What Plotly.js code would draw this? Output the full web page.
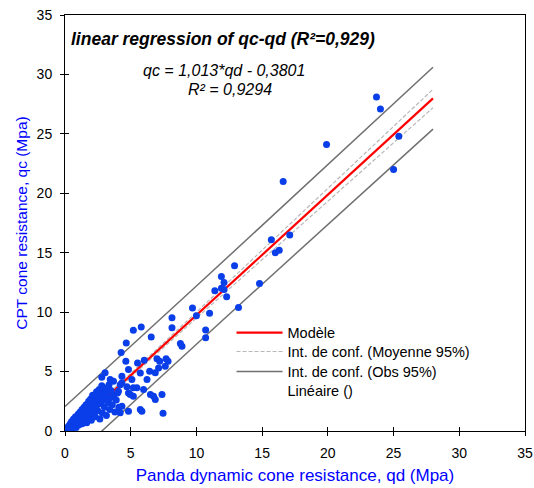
<!DOCTYPE html>
<html><head><meta charset="utf-8">
<script src="https://cdn.plot.ly/plotly-3.0.1.min.js"></script>
<style>body{margin:0;background:#fff;} #chart{width:534px;height:488px;}</style>
</head><body><div id="chart"></div>
<script>
// Observed points (Panda qd, CPT qc), MPa
const qd = [
  0, 0.02, 0.05, 0.1, 0.15, 0.2, 0.25, 0.3, 0.35, 0.4, 0.45, 0.5, 0.5, 0.55, 0.6, 0.65, 0.7, 0.75, 0.8, 0.8,
  0.85, 0.9, 0.95, 1.0, 1.0, 1.05, 1.1, 1.15, 1.2, 1.25, 1.3, 1.3, 1.35, 1.4, 1.45, 1.5, 1.5, 1.55, 1.6, 1.65,
  1.7, 1.75, 1.8, 1.8, 1.85, 1.9, 1.95, 2.0, 2.0, 2.05, 2.1, 2.15, 2.2, 2.25, 2.3, 2.35, 2.4, 2.45, 2.5, 2.55,
  2.6, 2.65, 2.7, 2.75, 2.8, 2.85, 2.9, 2.95, 3.0, 3.05, 3.1, 3.15, 3.2, 3.3, 3.35, 3.4, 3.45, 3.5, 3.6, 3.7,
  3.8, 3.9, 4.0, 4.1,
  2.8, 3.05, 3.44, 3.69, 4.33, 4.33, 4.2, 4.07, 4.71, 4.96, 5.47, 5.09, 4.83, 5.2, 5.2, 5.98, 6.24, 6.5,
  4.83, 5.73, 6.44, 6.87, 4.63, 5.52, 6.03, 7.0, 7.2, 7.69, 7.84, 7.12, 7.63, 4.27, 4.66, 6.56, 5.2, 5.8,
  8.14, 8.14, 8.78, 8.9, 9.7, 10.0, 11.0, 10.7, 10.7,
  4.33, 5.73, 5.85, 4.83, 4.2, 6.74, 6.87, 7.38, 7.46,
  11.4, 11.9, 12.1, 11.9, 12.1, 12.3, 12.9, 14.8, 13.2, 15.7, 16.0, 16.3, 17.1, 16.6, 19.9, 23.7, 24.0, 25.4, 25.0
];
const qc = [
  0, 0.1, 0.05, 0.2, 0.1, 0.3, 0.15, 0.45, 0.25, 0.6, 0.3, 0.8, 0.45, 0.2, 0.65, 1.0, 0.4, 0.85, 1.2, 0.55,
  0.3, 1.0, 0.7, 1.4, 0.9, 0.5, 1.2, 1.6, 0.8, 1.05, 1.8, 0.6, 1.4, 1.1, 2.0, 1.6, 0.9, 1.3, 2.2, 0.7,
  1.8, 1.5, 2.5, 1.1, 2.0, 1.4, 2.7, 1.8, 0.9, 2.3, 3.0, 1.5, 2.6, 2.0, 1.2, 2.9, 3.3, 2.2, 1.7, 2.6,
  3.5, 1.0, 2.9, 2.3, 3.8, 1.5, 3.2, 2.6, 2.0, 3.6, 2.9, 1.3, 3.3, 2.4, 3.9, 1.8, 2.8, 3.4, 2.2, 3.0,
  1.6, 2.6, 3.2, 2.0,
  4.53, 4.9, 4.33, 4.19, 4.05, 4.6, 3.9, 3.35, 3.72, 3.07, 3.63, 4.33, 3.2, 3.63, 2.93, 3.49, 4.33, 3.07,
  5.17, 4.89, 5.03, 4.9, 5.87, 5.73, 5.96, 6.07, 5.87, 6.07, 5.87, 5.31, 5.45, 6.6, 7.4, 7.9, 8.48, 8.76,
  9.52, 8.68, 7.36, 7.13, 10.35, 9.7, 9.9, 8.5, 7.85,
  2.09, 1.81, 1.67, 1.67, 1.53, 2.93, 2.65, 3.07, 1.5,
  11.8, 12.0, 11.9, 13.0, 12.5, 11.3, 13.9, 12.4, 10.4, 16.1, 15.0, 15.2, 16.5, 21.0, 24.1, 28.1, 27.1, 24.8, 22.0
];
// Regression outputs
const fitQd      = [0, 5, 10, 15, 20, 25, 28];
const fitModel   = [-0.38, 4.685, 9.75, 14.815, 19.88, 24.945, 27.984];
const meanUpper  = [-0.12, 4.84, 10.0, 15.2, 20.42, 25.62, 28.75];
const meanLower  = [-0.64, 4.53, 9.5, 14.43, 19.34, 24.27, 27.2];
const obsUpper   = [2.06, 7.1, 12.2, 17.3, 22.4, 27.5, 30.6];
const obsLower   = [-2.85, 2.25, 7.3, 12.35, 17.4, 22.45, 25.4];
const tickVals   = [0, 5, 10, 15, 20, 25, 30, 35];

const FONT = 'Liberation Sans, Arial, sans-serif';
const traces = [
  {x: fitQd, y: obsUpper, mode: 'lines', name: 'Int. de conf. (Obs 95%)', legend: 'legend3',
   line: {color: '#707070', width: 1.5}, hoverinfo: 'skip'},
  {x: fitQd, y: obsLower, mode: 'lines', name: 'Int. de conf. (Obs 95%)', legend: 'legend3', showlegend: false,
   line: {color: '#707070', width: 1.5}, hoverinfo: 'skip'},
  {x: fitQd, y: meanUpper, mode: 'lines', name: 'Int. de conf. (Moyenne 95%)', legend: 'legend2',
   line: {color: '#b8b8b8', width: 1.2, dash: '4px,2px'}, hoverinfo: 'skip'},
  {x: fitQd, y: meanLower, mode: 'lines', name: 'Int. de conf. (Moyenne 95%)', legend: 'legend2', showlegend: false,
   line: {color: '#b8b8b8', width: 1.2, dash: '4px,2px'}, hoverinfo: 'skip'},
  {x: fitQd, y: fitModel, mode: 'lines', name: 'Modèle', legend: 'legend',
   line: {color: '#ff0000', width: 2.2}, hoverinfo: 'skip'},
  {x: fitQd, y: fitModel, mode: 'lines', name: 'Linéaire ()', legend: 'legend4',
   line: {color: 'rgba(0,0,0,0)', width: 0}, hoverinfo: 'skip'},
  {x: qd, y: qc, mode: 'markers', name: 'data', showlegend: false,
   marker: {color: '#0a3ee8', size: 7, line: {width: 0}}}
];

const axisCommon = {
  range: [0, 35], tickvals: tickVals, ticks: 'outside', ticklen: 4, tickwidth: 1, tickcolor: '#000',
  showline: true, linecolor: '#000', linewidth: 1, mirror: true, showgrid: false, zeroline: false,
  tickfont: {family: FONT, size: 14, color: '#000'}, ticklabelstandoff: 5
};
function legendAt(y) {
  return {x: 0.362, y: y, xanchor: 'left', yanchor: 'middle', bgcolor: 'rgba(0,0,0,0)',
          font: {family: FONT, size: 14.5, color: '#000'}, itemwidth: 46};
}
const layout = {
  width: 534, height: 488,
  margin: {l: 65, r: 9, t: 15, b: 56.5},
  paper_bgcolor: '#fff', plot_bgcolor: '#fff',
  showlegend: true,
  legend: legendAt(0.2365),
  legend2: legendAt(0.1909),
  legend3: legendAt(0.1429),
  legend4: legendAt(0.0973),
  xaxis: Object.assign({}, axisCommon, {
    title: {text: 'Panda dynamic cone resistance, qd (Mpa)', font: {family: FONT, size: 17, color: '#0000ff'}, standoff: 9}
  }),
  yaxis: Object.assign({}, axisCommon, {
    title: {text: 'CPT cone resistance, qc (Mpa)', font: {family: FONT, size: 15.5, color: '#0000ff'}, standoff: 5}
  }),
  xaxis2: {overlaying: 'x', anchor: 'y', range: [0, 35], tickvals: tickVals, ticks: 'inside', ticklen: 4, tickwidth: 1,
           tickcolor: '#000', showticklabels: false, showline: false, showgrid: false, zeroline: false},
  yaxis2: {overlaying: 'y', anchor: 'x', range: [0, 35], tickvals: tickVals, ticks: 'inside', ticklen: 4, tickwidth: 1,
           tickcolor: '#000', showticklabels: false, showline: false, showgrid: false, zeroline: false},
  annotations: [
    {text: 'linear regression of qc-qd (R²=0,929)', xref: 'paper', yref: 'paper', x: 0.008, y: 0.942,
     xanchor: 'left', yanchor: 'middle', showarrow: false,
     font: {family: FONT, size: 17.5, color: '#000', weight: 'bold', style: 'italic'}},
    {text: 'qc = 1,013*qd - 0,3801', xref: 'paper', yref: 'paper', x: 0.345, y: 0.866,
     xanchor: 'center', yanchor: 'middle', showarrow: false,
     font: {family: FONT, size: 16, color: '#000', style: 'italic'}},
    {text: 'R² = 0,9294', xref: 'paper', yref: 'paper', x: 0.359, y: 0.822,
     xanchor: 'center', yanchor: 'middle', showarrow: false,
     font: {family: FONT, size: 16, color: '#000', style: 'italic'}}
  ]
};
// invisible anchor trace for overlay axes
traces.push({x: [0], y: [0], xaxis: 'x2', yaxis: 'y2', mode: 'markers', marker: {opacity: 0}, showlegend: false, hoverinfo: 'skip'});
Plotly.newPlot('chart', traces, layout, {displayModeBar: false, staticPlot: true});
</script>
</body></html>
